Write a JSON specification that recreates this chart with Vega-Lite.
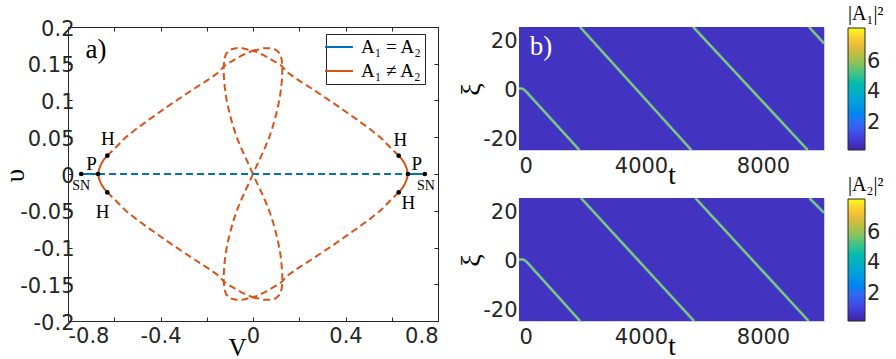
{
"$schema":"https://vega.github.io/schema/vega-lite/v6.json",
"padding":{"left":0,"top":3,"right":0,"bottom":0},
"background":"white",
"config":{
 "font":"DejaVu Sans",
 "axis":{"grid":false,"labelFont":"DejaVu Sans","labelFontSize":21,"labelColor":"#262626","tickColor":"#262626","domainColor":"#262626","titleFont":"Liberation Serif","titleFontWeight":"normal","titleColor":"#000000"},
 "view":{"stroke":null}
},
"datasets":{
 "curve":[
  {"s":"oUL","b":"ne","d":"dash","i":0,"V":-0.63,"u":0.025},{"s":"oUL","b":"ne","d":"dash","i":1,"V":-0.6,"u":0.034},{"s":"oUL","b":"ne","d":"dash","i":2,"V":-0.55,"u":0.05},{"s":"oUL","b":"ne","d":"dash","i":3,"V":-0.5,"u":0.0625},{"s":"oUL","b":"ne","d":"dash","i":4,"V":-0.45,"u":0.074},{"s":"oUL","b":"ne","d":"dash","i":5,"V":-0.4,"u":0.085},{"s":"oUL","b":"ne","d":"dash","i":6,"V":-0.35,"u":0.096},{"s":"oUL","b":"ne","d":"dash","i":7,"V":-0.3,"u":0.1065},{"s":"oUL","b":"ne","d":"dash","i":8,"V":-0.25,"u":0.117},{"s":"oUL","b":"ne","d":"dash","i":9,"V":-0.2,"u":0.127},{"s":"oUL","b":"ne","d":"dash","i":10,"V":-0.15,"u":0.138},{"s":"oUL","b":"ne","d":"dash","i":11,"V":-0.124,"u":0.147},{"s":"oUL","b":"ne","d":"dash","i":12,"V":-0.1,"u":0.152},{"s":"oUL","b":"ne","d":"dash","i":13,"V":-0.05,"u":0.161},{"s":"oUL","b":"ne","d":"dash","i":14,"V":0,"u":0.168},
  {"s":"oUR","b":"ne","d":"dash","i":0,"V":0.63,"u":0.025},{"s":"oUR","b":"ne","d":"dash","i":1,"V":0.6,"u":0.034},{"s":"oUR","b":"ne","d":"dash","i":2,"V":0.55,"u":0.05},{"s":"oUR","b":"ne","d":"dash","i":3,"V":0.5,"u":0.0625},{"s":"oUR","b":"ne","d":"dash","i":4,"V":0.45,"u":0.074},{"s":"oUR","b":"ne","d":"dash","i":5,"V":0.4,"u":0.085},{"s":"oUR","b":"ne","d":"dash","i":6,"V":0.35,"u":0.096},{"s":"oUR","b":"ne","d":"dash","i":7,"V":0.3,"u":0.1065},{"s":"oUR","b":"ne","d":"dash","i":8,"V":0.25,"u":0.117},{"s":"oUR","b":"ne","d":"dash","i":9,"V":0.2,"u":0.127},{"s":"oUR","b":"ne","d":"dash","i":10,"V":0.15,"u":0.138},{"s":"oUR","b":"ne","d":"dash","i":11,"V":0.124,"u":0.147},{"s":"oUR","b":"ne","d":"dash","i":12,"V":0.1,"u":0.152},{"s":"oUR","b":"ne","d":"dash","i":13,"V":0.05,"u":0.161},{"s":"oUR","b":"ne","d":"dash","i":14,"V":0,"u":0.168},
  {"s":"oLL","b":"ne","d":"dash","i":0,"V":-0.63,"u":-0.025},{"s":"oLL","b":"ne","d":"dash","i":1,"V":-0.6,"u":-0.034},{"s":"oLL","b":"ne","d":"dash","i":2,"V":-0.55,"u":-0.05},{"s":"oLL","b":"ne","d":"dash","i":3,"V":-0.5,"u":-0.0625},{"s":"oLL","b":"ne","d":"dash","i":4,"V":-0.45,"u":-0.074},{"s":"oLL","b":"ne","d":"dash","i":5,"V":-0.4,"u":-0.085},{"s":"oLL","b":"ne","d":"dash","i":6,"V":-0.35,"u":-0.096},{"s":"oLL","b":"ne","d":"dash","i":7,"V":-0.3,"u":-0.1065},{"s":"oLL","b":"ne","d":"dash","i":8,"V":-0.25,"u":-0.117},{"s":"oLL","b":"ne","d":"dash","i":9,"V":-0.2,"u":-0.127},{"s":"oLL","b":"ne","d":"dash","i":10,"V":-0.15,"u":-0.138},{"s":"oLL","b":"ne","d":"dash","i":11,"V":-0.124,"u":-0.147},{"s":"oLL","b":"ne","d":"dash","i":12,"V":-0.1,"u":-0.152},{"s":"oLL","b":"ne","d":"dash","i":13,"V":-0.05,"u":-0.161},{"s":"oLL","b":"ne","d":"dash","i":14,"V":0,"u":-0.168},
  {"s":"oLR","b":"ne","d":"dash","i":0,"V":0.63,"u":-0.025},{"s":"oLR","b":"ne","d":"dash","i":1,"V":0.6,"u":-0.034},{"s":"oLR","b":"ne","d":"dash","i":2,"V":0.55,"u":-0.05},{"s":"oLR","b":"ne","d":"dash","i":3,"V":0.5,"u":-0.0625},{"s":"oLR","b":"ne","d":"dash","i":4,"V":0.45,"u":-0.074},{"s":"oLR","b":"ne","d":"dash","i":5,"V":0.4,"u":-0.085},{"s":"oLR","b":"ne","d":"dash","i":6,"V":0.35,"u":-0.096},{"s":"oLR","b":"ne","d":"dash","i":7,"V":0.3,"u":-0.1065},{"s":"oLR","b":"ne","d":"dash","i":8,"V":0.25,"u":-0.117},{"s":"oLR","b":"ne","d":"dash","i":9,"V":0.2,"u":-0.127},{"s":"oLR","b":"ne","d":"dash","i":10,"V":0.15,"u":-0.138},{"s":"oLR","b":"ne","d":"dash","i":11,"V":0.124,"u":-0.147},{"s":"oLR","b":"ne","d":"dash","i":12,"V":0.1,"u":-0.152},{"s":"oLR","b":"ne","d":"dash","i":13,"V":0.05,"u":-0.161},{"s":"oLR","b":"ne","d":"dash","i":14,"V":0,"u":-0.168},
  {"s":"pL","b":"ne","d":"solid","i":0,"V":-0.63,"u":0.025},{"s":"pL","b":"ne","d":"solid","i":1,"V":-0.645,"u":0.0195},{"s":"pL","b":"ne","d":"solid","i":2,"V":-0.657,"u":0.0135},{"s":"pL","b":"ne","d":"solid","i":3,"V":-0.665,"u":0.007},{"s":"pL","b":"ne","d":"solid","i":4,"V":-0.67,"u":0},{"s":"pL","b":"ne","d":"solid","i":5,"V":-0.665,"u":-0.007},{"s":"pL","b":"ne","d":"solid","i":6,"V":-0.657,"u":-0.0135},{"s":"pL","b":"ne","d":"solid","i":7,"V":-0.645,"u":-0.0195},{"s":"pL","b":"ne","d":"solid","i":8,"V":-0.63,"u":-0.025},
  {"s":"pR","b":"ne","d":"solid","i":0,"V":0.63,"u":0.025},{"s":"pR","b":"ne","d":"solid","i":1,"V":0.645,"u":0.0195},{"s":"pR","b":"ne","d":"solid","i":2,"V":0.657,"u":0.0135},{"s":"pR","b":"ne","d":"solid","i":3,"V":0.665,"u":0.007},{"s":"pR","b":"ne","d":"solid","i":4,"V":0.67,"u":0},{"s":"pR","b":"ne","d":"solid","i":5,"V":0.665,"u":-0.007},{"s":"pR","b":"ne","d":"solid","i":6,"V":0.657,"u":-0.0135},{"s":"pR","b":"ne","d":"solid","i":7,"V":0.645,"u":-0.0195},{"s":"pR","b":"ne","d":"solid","i":8,"V":0.63,"u":-0.025},
  {"s":"lU","b":"ne","d":"dash","i":0,"V":0,"u":0},{"s":"lU","b":"ne","d":"dash","i":1,"V":-0.017,"u":0.012},{"s":"lU","b":"ne","d":"dash","i":2,"V":-0.035,"u":0.024},{"s":"lU","b":"ne","d":"dash","i":3,"V":-0.052,"u":0.036},{"s":"lU","b":"ne","d":"dash","i":4,"V":-0.068,"u":0.048},{"s":"lU","b":"ne","d":"dash","i":5,"V":-0.083,"u":0.062},{"s":"lU","b":"ne","d":"dash","i":6,"V":-0.096,"u":0.076},{"s":"lU","b":"ne","d":"dash","i":7,"V":-0.107,"u":0.09},{"s":"lU","b":"ne","d":"dash","i":8,"V":-0.116,"u":0.104},{"s":"lU","b":"ne","d":"dash","i":9,"V":-0.122,"u":0.118},{"s":"lU","b":"ne","d":"dash","i":10,"V":-0.126,"u":0.132},{"s":"lU","b":"ne","d":"dash","i":11,"V":-0.127,"u":0.145},{"s":"lU","b":"ne","d":"dash","i":12,"V":-0.124,"u":0.156},{"s":"lU","b":"ne","d":"dash","i":13,"V":-0.116,"u":0.164},{"s":"lU","b":"ne","d":"dash","i":14,"V":-0.1,"u":0.169},{"s":"lU","b":"ne","d":"dash","i":15,"V":-0.075,"u":0.171},{"s":"lU","b":"ne","d":"dash","i":16,"V":-0.045,"u":0.171},{"s":"lU","b":"ne","d":"dash","i":17,"V":-0.02,"u":0.169},{"s":"lU","b":"ne","d":"dash","i":18,"V":0,"u":0.168},{"s":"lU","b":"ne","d":"dash","i":19,"V":0.02,"u":0.169},{"s":"lU","b":"ne","d":"dash","i":20,"V":0.045,"u":0.171},{"s":"lU","b":"ne","d":"dash","i":21,"V":0.075,"u":0.171},{"s":"lU","b":"ne","d":"dash","i":22,"V":0.1,"u":0.169},{"s":"lU","b":"ne","d":"dash","i":23,"V":0.116,"u":0.164},{"s":"lU","b":"ne","d":"dash","i":24,"V":0.124,"u":0.156},{"s":"lU","b":"ne","d":"dash","i":25,"V":0.127,"u":0.145},{"s":"lU","b":"ne","d":"dash","i":26,"V":0.126,"u":0.132},{"s":"lU","b":"ne","d":"dash","i":27,"V":0.122,"u":0.118},{"s":"lU","b":"ne","d":"dash","i":28,"V":0.116,"u":0.104},{"s":"lU","b":"ne","d":"dash","i":29,"V":0.107,"u":0.09},{"s":"lU","b":"ne","d":"dash","i":30,"V":0.096,"u":0.076},{"s":"lU","b":"ne","d":"dash","i":31,"V":0.083,"u":0.062},{"s":"lU","b":"ne","d":"dash","i":32,"V":0.068,"u":0.048},{"s":"lU","b":"ne","d":"dash","i":33,"V":0.052,"u":0.036},{"s":"lU","b":"ne","d":"dash","i":34,"V":0.035,"u":0.024},{"s":"lU","b":"ne","d":"dash","i":35,"V":0.017,"u":0.012},{"s":"lU","b":"ne","d":"dash","i":36,"V":0,"u":0},
  {"s":"lD","b":"ne","d":"dash","i":0,"V":0,"u":0},{"s":"lD","b":"ne","d":"dash","i":1,"V":-0.017,"u":-0.012},{"s":"lD","b":"ne","d":"dash","i":2,"V":-0.035,"u":-0.024},{"s":"lD","b":"ne","d":"dash","i":3,"V":-0.052,"u":-0.036},{"s":"lD","b":"ne","d":"dash","i":4,"V":-0.068,"u":-0.048},{"s":"lD","b":"ne","d":"dash","i":5,"V":-0.083,"u":-0.062},{"s":"lD","b":"ne","d":"dash","i":6,"V":-0.096,"u":-0.076},{"s":"lD","b":"ne","d":"dash","i":7,"V":-0.107,"u":-0.09},{"s":"lD","b":"ne","d":"dash","i":8,"V":-0.116,"u":-0.104},{"s":"lD","b":"ne","d":"dash","i":9,"V":-0.122,"u":-0.118},{"s":"lD","b":"ne","d":"dash","i":10,"V":-0.126,"u":-0.132},{"s":"lD","b":"ne","d":"dash","i":11,"V":-0.127,"u":-0.145},{"s":"lD","b":"ne","d":"dash","i":12,"V":-0.124,"u":-0.156},{"s":"lD","b":"ne","d":"dash","i":13,"V":-0.116,"u":-0.164},{"s":"lD","b":"ne","d":"dash","i":14,"V":-0.1,"u":-0.169},{"s":"lD","b":"ne","d":"dash","i":15,"V":-0.075,"u":-0.171},{"s":"lD","b":"ne","d":"dash","i":16,"V":-0.045,"u":-0.171},{"s":"lD","b":"ne","d":"dash","i":17,"V":-0.02,"u":-0.169},{"s":"lD","b":"ne","d":"dash","i":18,"V":0,"u":-0.168},{"s":"lD","b":"ne","d":"dash","i":19,"V":0.02,"u":-0.169},{"s":"lD","b":"ne","d":"dash","i":20,"V":0.045,"u":-0.171},{"s":"lD","b":"ne","d":"dash","i":21,"V":0.075,"u":-0.171},{"s":"lD","b":"ne","d":"dash","i":22,"V":0.1,"u":-0.169},{"s":"lD","b":"ne","d":"dash","i":23,"V":0.116,"u":-0.164},{"s":"lD","b":"ne","d":"dash","i":24,"V":0.124,"u":-0.156},{"s":"lD","b":"ne","d":"dash","i":25,"V":0.127,"u":-0.145},{"s":"lD","b":"ne","d":"dash","i":26,"V":0.126,"u":-0.132},{"s":"lD","b":"ne","d":"dash","i":27,"V":0.122,"u":-0.118},{"s":"lD","b":"ne","d":"dash","i":28,"V":0.116,"u":-0.104},{"s":"lD","b":"ne","d":"dash","i":29,"V":0.107,"u":-0.09},{"s":"lD","b":"ne","d":"dash","i":30,"V":0.096,"u":-0.076},{"s":"lD","b":"ne","d":"dash","i":31,"V":0.083,"u":-0.062},{"s":"lD","b":"ne","d":"dash","i":32,"V":0.068,"u":-0.048},{"s":"lD","b":"ne","d":"dash","i":33,"V":0.052,"u":-0.036},{"s":"lD","b":"ne","d":"dash","i":34,"V":0.035,"u":-0.024},{"s":"lD","b":"ne","d":"dash","i":35,"V":0.017,"u":-0.012},{"s":"lD","b":"ne","d":"dash","i":36,"V":0,"u":0},
  {"s":"bS1","b":"eq","d":"solid","i":0,"V":-0.743,"u":0},{"s":"bS1","b":"eq","d":"solid","i":1,"V":-0.67,"u":0},
  {"s":"bD","b":"eq","d":"dash","i":0,"V":-0.67,"u":0},{"s":"bD","b":"eq","d":"dash","i":1,"V":0.67,"u":0},
  {"s":"bS2","b":"eq","d":"solid","i":0,"V":0.67,"u":0},{"s":"bS2","b":"eq","d":"solid","i":1,"V":0.743,"u":0}
 ],
 "pts":[{"V":-0.743,"u":0},{"V":-0.67,"u":0},{"V":-0.63,"u":0.025},{"V":-0.63,"u":-0.025},{"V":0.743,"u":0},{"V":0.67,"u":0},{"V":0.63,"u":0.025},{"V":0.63,"u":-0.025}],
 "labs":[{"L":"H","V":-0.628,"u":0.048},{"L":"P","V":-0.698,"u":0.014},{"L":"SN","V":-0.743,"u":-0.016},{"L":"H","V":-0.65,"u":-0.052},{"L":"H","V":0.637,"u":0.046},{"L":"P","V":0.708,"u":0.013},{"L":"SN","V":0.748,"u":-0.016},{"L":"H","V":0.672,"u":-0.04}],
 "bg":[{"t0":0,"t1":10000,"x0":-25,"x1":25,"val":0.6}],
 "tr":[
  {"p":1,"s":1,"k":0,"t":0,"xi":0},{"p":1,"s":1,"k":1,"t":100,"xi":0},{"p":1,"s":1,"k":2,"t":180,"xi":-0.6},{"p":1,"s":1,"k":3,"t":260,"xi":-1.6},{"p":1,"s":1,"k":4,"t":1980,"xi":-25},
  {"p":1,"s":2,"k":0,"t":2000,"xi":25},{"p":1,"s":2,"k":1,"t":5650,"xi":-25},
  {"p":1,"s":3,"k":0,"t":5710,"xi":25},{"p":1,"s":3,"k":1,"t":9465,"xi":-25},
  {"p":1,"s":4,"k":0,"t":9510,"xi":25},{"p":1,"s":4,"k":1,"t":10000,"xi":18.3},
  {"p":2,"s":1,"k":0,"t":0,"xi":0},{"p":2,"s":1,"k":1,"t":140,"xi":0},{"p":2,"s":1,"k":2,"t":220,"xi":-0.6},{"p":2,"s":1,"k":3,"t":300,"xi":-1.6},{"p":2,"s":1,"k":4,"t":2000,"xi":-25},
  {"p":2,"s":2,"k":0,"t":2030,"xi":25},{"p":2,"s":2,"k":1,"t":5740,"xi":-25},
  {"p":2,"s":3,"k":0,"t":5780,"xi":25},{"p":2,"s":3,"k":1,"t":9495,"xi":-25},
  {"p":2,"s":4,"k":0,"t":9520,"xi":25},{"p":2,"s":4,"k":1,"t":10000,"xi":19}
 ]
},
"bounds":"flush",
"spacing":81,
"resolve":{"scale":{"color":"independent"},"legend":{"color":"independent"}},
"hconcat":[
 {
  "width":370,"height":294,
  "view":{"stroke":"#262626","strokeWidth":1},
  "resolve":{"axis":{"x":"independent","y":"independent"}},
  "layer":[
   {"data":{"name":"curve"},
    "mark":{"type":"line","strokeWidth":2,"clip":true},
    "encoding":{
     "x":{"field":"V","type":"quantitative","scale":{"domain":[-0.8,0.8],"nice":false,"zero":false},
      "axis":{"orient":"bottom","values":[-0.8,-0.6,-0.4,-0.2,0,0.2,0.4,0.6,0.8],"labelExpr":"abs(round(datum.value*10)) % 4 == 0 ? '' + datum.value : ''","domain":false,"tickSize":-4,"labelPadding":8,"title":"V","titleFontSize":25,"titleX":169,"titleY":26,"titleBaseline":"middle","titleAlign":"center"}},
     "y":{"field":"u","type":"quantitative","scale":{"domain":[-0.2,0.2],"nice":false,"zero":false},
      "axis":{"orient":"left","values":[-0.2,-0.15,-0.1,-0.05,0,0.05,0.1,0.15,0.2],"labelExpr":"'' + datum.value","domain":false,"tickSize":-4,"labelPadding":-2,"labelOffset":2,"title":"υ","titleFontSize":27,"titleX":-53,"titleY":148,"titleAngle":-90,"titleBaseline":"middle","titleAlign":"center"}},
     "color":{"field":"b","type":"nominal","scale":{"domain":["eq","ne"],"range":["#0072bd","#d95319"]},
      "legend":{"orient":"none","legendX":258,"legendY":7,"title":null,"symbolType":"M-1.55,0H1.55","symbolStrokeWidth":2,"symbolSize":324,"labelFont":"Liberation Serif","labelFontSize":19,"labelColor":"#000000","labelExpr":"datum.value == 'eq' ? 'A₁ = A₂' : 'A₁ ≠ A₂'","strokeColor":"#262626","fillColor":"#ffffff","padding":3,"rowPadding":4,"labelOffset":12}},
     "strokeDash":{"field":"d","type":"nominal","scale":{"domain":["solid","dash"],"range":[[1,0],[7,4]]},"legend":null},
     "detail":{"field":"s"},
     "order":{"field":"i","type":"quantitative"}
    }},
   {"data":{"name":"pts"},
    "mark":{"type":"point","filled":true,"size":22,"color":"#000000","opacity":1},
    "encoding":{
     "x":{"field":"V","type":"quantitative","scale":{"domain":[-0.8,0.8],"nice":false,"zero":false},
      "axis":{"orient":"top","values":[-0.8,-0.6,-0.4,-0.2,0,0.2,0.4,0.6,0.8],"labels":false,"domain":false,"tickSize":-4,"title":null}},
     "y":{"field":"u","type":"quantitative","scale":{"domain":[-0.2,0.2],"nice":false,"zero":false},
      "axis":{"orient":"right","values":[-0.2,-0.15,-0.1,-0.05,0,0.05,0.1,0.15,0.2],"labels":false,"domain":false,"tickSize":-4,"title":null}}
    }},
   {"data":{"name":"labs"},
    "transform":[{"filter":"datum.L != 'SN'"}],
    "mark":{"type":"text","font":"Liberation Serif","fontSize":19,"color":"#000000","align":"center","baseline":"middle"},
    "encoding":{
     "x":{"field":"V","type":"quantitative","axis":null},
     "y":{"field":"u","type":"quantitative","axis":null},
     "text":{"field":"L"}
    }},
   {"data":{"name":"labs"},
    "transform":[{"filter":"datum.L == 'SN'"}],
    "mark":{"type":"text","font":"Liberation Serif","fontSize":14,"color":"#000000","align":"center","baseline":"middle"},
    "encoding":{
     "x":{"field":"V","type":"quantitative","axis":null},
     "y":{"field":"u","type":"quantitative","axis":null},
     "text":{"field":"L"}
    }},
   {"data":{"values":[{"V":-0.679,"u":0.169,"T":"a)"}]},
    "mark":{"type":"text","font":"Liberation Serif","fontSize":27,"color":"#000000","align":"center","baseline":"middle"},
    "encoding":{
     "x":{"field":"V","type":"quantitative","axis":null},
     "y":{"field":"u","type":"quantitative","axis":null},
     "text":{"field":"T"}
    }}
  ]
 },
 {
  "bounds":"flush",
  "spacing":48,
  "resolve":{"scale":{"color":"independent"},"legend":{"color":"independent"}},
  "vconcat":[
   {
    "width":305,"height":123,
    "view":{"stroke":"#d0d0d0","strokeWidth":1},
    "layer":[
     {"data":{"name":"bg"},
      "mark":{"type":"rect"},
      "encoding":{
       "x":{"field":"t0","type":"quantitative","scale":{"domain":[0,10000],"nice":false,"zero":false},
        "axis":{"values":[0,4000,8000],"format":"d","ticks":false,"domain":false,"labelPadding":5,"title":"t","titleFontSize":27,"titleY":25,"titleBaseline":"middle"}},
       "x2":{"field":"t1"},
       "y":{"field":"x0","type":"quantitative","scale":{"domain":[-25,25],"nice":false,"zero":false},
        "axis":{"values":[-20,-10,0,10,20],"labelExpr":"'' + datum.value","ticks":false,"domain":false,"labelPadding":2,"labelOffset":2,"title":"ξ","titleFontSize":28,"titleX":-48,"titleY":62,"titleAngle":-90,"titleBaseline":"middle","titleAlign":"center"}},
       "y2":{"field":"x1"},
       "color":{"field":"val","type":"quantitative","scale":{"domain":[0.2,8.2],"range":["#3e26a8","#4446e6","#2d76f5","#1a9ae0","#0cb5b8","#3fc28a","#a9c04a","#f4b83c","#f9fb15"]},
        "legend":{"type":"gradient","orient":"none","legendX":329,"legendY":-23,"title":"|A₁|²","titleFont":"Liberation Serif","titleFontSize":20,"titleFontWeight":"normal","titleColor":"#000000","titlePadding":4,"gradientLength":122,"gradientThickness":17,"gradientStrokeColor":"#262626","gradientStrokeWidth":1,"values":[2,4,6],"labelFont":"DejaVu Sans","labelFontSize":21,"labelOffset":2,"labelColor":"#262626","direction":"vertical","padding":0}}
      }},
     {"data":{"name":"tr"},
      "transform":[{"filter":"datum.p == 1"}],
      "mark":{"type":"line","strokeWidth":3.2,"clip":true,"color":"#179fd8"},
      "encoding":{
       "x":{"field":"t","type":"quantitative","scale":{"domain":[0,10000],"nice":false,"zero":false}},
       "y":{"field":"xi","type":"quantitative","scale":{"domain":[-25,25],"nice":false,"zero":false}},
       "detail":{"field":"s"},
       "order":{"field":"k","type":"quantitative"}
      }},
     {"data":{"name":"tr"},
      "transform":[{"filter":"datum.p == 1"}],
      "mark":{"type":"line","strokeWidth":1.5,"clip":true,"color":"#cdbe45"},
      "encoding":{
       "x":{"field":"t","type":"quantitative","scale":{"domain":[0,10000],"nice":false,"zero":false}},
       "y":{"field":"xi","type":"quantitative","scale":{"domain":[-25,25],"nice":false,"zero":false}},
       "detail":{"field":"s"},
       "order":{"field":"k","type":"quantitative"}
      }},
     {"data":{"values":[{"t":720,"xi":17,"T":"b)"}]},
      "mark":{"type":"text","font":"Liberation Serif","fontSize":27,"color":"#ffffff","align":"center","baseline":"middle"},
      "encoding":{
       "x":{"field":"t","type":"quantitative"},
       "y":{"field":"xi","type":"quantitative"},
       "text":{"field":"T"}
      }}
    ]
   },
   {
    "width":305,"height":123,
    "view":{"stroke":"#d0d0d0","strokeWidth":1},
    "layer":[
     {"data":{"name":"bg"},
      "mark":{"type":"rect"},
      "encoding":{
       "x":{"field":"t0","type":"quantitative","scale":{"domain":[0,10000],"nice":false,"zero":false},
        "axis":{"values":[0,4000,8000],"format":"d","ticks":false,"domain":false,"labelPadding":5,"title":"t","titleFontSize":27,"titleY":25,"titleBaseline":"middle"}},
       "x2":{"field":"t1"},
       "y":{"field":"x0","type":"quantitative","scale":{"domain":[-25,25],"nice":false,"zero":false},
        "axis":{"values":[-20,-10,0,10,20],"labelExpr":"'' + datum.value","ticks":false,"domain":false,"labelPadding":2,"labelOffset":2,"title":"ξ","titleFontSize":28,"titleX":-48,"titleY":62,"titleAngle":-90,"titleBaseline":"middle","titleAlign":"center"}},
       "y2":{"field":"x1"},
       "color":{"field":"val","type":"quantitative","scale":{"domain":[0.2,8.2],"range":["#3e26a8","#4446e6","#2d76f5","#1a9ae0","#0cb5b8","#3fc28a","#a9c04a","#f4b83c","#f9fb15"]},
        "legend":{"type":"gradient","orient":"none","legendX":329,"legendY":-23,"title":"|A₂|²","titleFont":"Liberation Serif","titleFontSize":20,"titleFontWeight":"normal","titleColor":"#000000","titlePadding":4,"gradientLength":122,"gradientThickness":17,"gradientStrokeColor":"#262626","gradientStrokeWidth":1,"values":[2,4,6],"labelFont":"DejaVu Sans","labelFontSize":21,"labelOffset":2,"labelColor":"#262626","direction":"vertical","padding":0}}
      }},
     {"data":{"name":"tr"},
      "transform":[{"filter":"datum.p == 2"}],
      "mark":{"type":"line","strokeWidth":3.2,"clip":true,"color":"#179fd8"},
      "encoding":{
       "x":{"field":"t","type":"quantitative","scale":{"domain":[0,10000],"nice":false,"zero":false}},
       "y":{"field":"xi","type":"quantitative","scale":{"domain":[-25,25],"nice":false,"zero":false}},
       "detail":{"field":"s"},
       "order":{"field":"k","type":"quantitative"}
      }},
     {"data":{"name":"tr"},
      "transform":[{"filter":"datum.p == 2"}],
      "mark":{"type":"line","strokeWidth":1.5,"clip":true,"color":"#cdbe45"},
      "encoding":{
       "x":{"field":"t","type":"quantitative","scale":{"domain":[0,10000],"nice":false,"zero":false}},
       "y":{"field":"xi","type":"quantitative","scale":{"domain":[-25,25],"nice":false,"zero":false}},
       "detail":{"field":"s"},
       "order":{"field":"k","type":"quantitative"}
      }}
    ]
   }
  ]
 }
]
}
